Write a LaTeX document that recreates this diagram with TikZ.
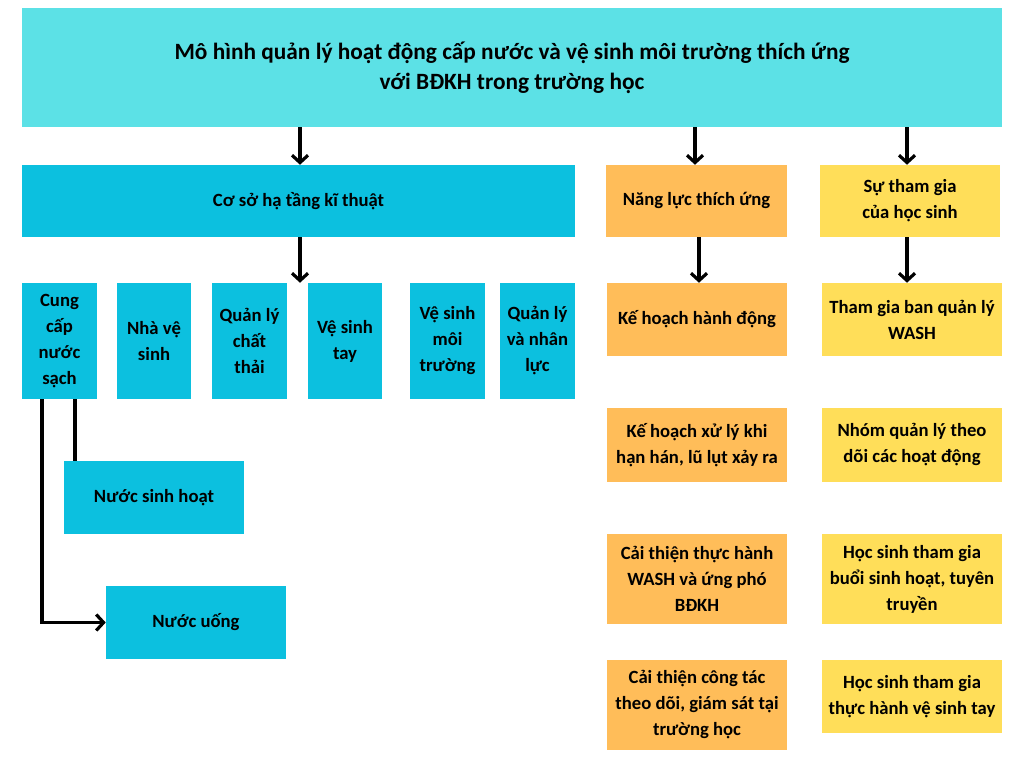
\documentclass[tikz,border=0pt]{standalone}
\usepackage{fontspec}
\setmainfont{Carlito}
\usetikzlibrary{arrows.meta}
\definecolor{titlecyan}{HTML}{5CE1E6}
\definecolor{boxcyan}{HTML}{0CC0DF}
\definecolor{boxorange}{HTML}{FFBD59}
\definecolor{boxyellow}{HTML}{FFDE59}
\tikzset{
  bx/.style={inner sep=0pt, align=center, text=black, font=\bfseries\fontsize{14}{19.5}\selectfont},
  cy/.style={bx, fill=boxcyan},
  og/.style={bx, fill=boxorange},
  yl/.style={bx, fill=boxyellow},
  wh/.style 2 args={minimum width=#1*0.75pt, minimum height=#2*0.75pt},
  conn/.style={line width=2.4pt, black},
  arr/.style={conn, -{Straight Barb[length=5.5pt,width=12pt,line width=2.4pt]}},
}
\begin{document}
\begin{tikzpicture}[x=0.75pt, y=-0.75pt]
\useasboundingbox[fill=white] (0,0) rectangle (1024,768);
% title
\node[bx, fill=titlecyan, wh={980}{119}, font=\bfseries\fontsize{17.5}{22.5}\selectfont] (title) at (512,67.5)
  {Mô hình quản lý hoạt động cấp nước và vệ sinh môi trường thích ứng\\với BĐKH trong trường học};
% level 2
\node[cy, wh={553}{72}] (coso) at (298.5,201) {Cơ sở hạ tầng kĩ thuật};
\node[og, wh={181}{72}] (nangluc) at (696.5,201) {Năng lực thích ứng};
\node[yl, wh={180}{72}] (sutg) at (910,201) {Sự tham gia\\của học sinh};
% small row
\node[cy, wh={75}{116}] (cung) at (59.5,341) {Cung\\cấp\\nước\\sạch};
\node[cy, wh={74}{116}] (nha) at (154,341) {Nhà vệ\\sinh};
\node[cy, wh={75}{116}] (qlct) at (249.5,341) {Quản lý\\chất\\thải};
\node[cy, wh={74}{116}] (vst) at (345,341) {Vệ sinh\\tay};
\node[cy, wh={75}{116}] (vsmt) at (447.5,341) {Vệ sinh\\môi\\trường};
\node[cy, wh={75}{116}] (qlnl) at (537.5,341) {Quản lý\\và nhân\\lực};
% orange column
\node[og, wh={180}{73}] (kh) at (697,319.5) {Kế hoạch hành động};
\node[og, wh={180}{74}] (kxl) at (697,445) {Kế hoạch xử lý khi\\hạn hán, lũ lụt xảy ra};
\node[og, wh={180}{90}] (ct1) at (697,579) {Cải thiện thực hành\\WASH và ứng phó\\BĐKH};
\node[og, wh={180}{90}] (ct2) at (697,705) {Cải thiện công tác\\theo dõi, giám sát tại\\trường học};
% yellow column
\node[yl, wh={180}{73}] (tgb) at (912,319.5) {Tham gia ban quản lý\\WASH};
\node[yl, wh={180}{74}] (nhom) at (912,445) {Nhóm quản lý theo\\dõi các hoạt động};
\node[yl, wh={180}{90}] (hsb) at (912,579) {Học sinh tham gia\\buổi sinh hoạt, tuyên\\truyền};
\node[yl, wh={180}{73}] (hst) at (912,696.5) {Học sinh tham gia\\thực hành vệ sinh tay};
% water sub-boxes
\node[cy, wh={180}{73}] (nsh) at (154,497.5) {Nước sinh hoạt};
\node[cy, wh={180}{73}] (nu) at (196,622.5) {Nước uống};
% helper coordinates
\coordinate (c300) at (300,0);
\coordinate (c695) at (695,0);
\coordinate (c907) at (907,0);
\coordinate (c699) at (699,0);
\coordinate (c75) at (75,0);
\coordinate (c42) at (42,0);
% connectors
\draw[arr] (title.south -| c300) -- (coso.north -| c300);
\draw[arr] (title.south -| c695) -- (nangluc.north -| c695);
\draw[arr] (title.south -| c907) -- (sutg.north -| c907);
\draw[arr] (coso.south -| c300) -- (vst.north -| c300);
\draw[arr] (nangluc.south -| c699) -- (kh.north -| c699);
\draw[arr] (sutg.south -| c907) -- (tgb.north -| c907);
\draw[conn] (cung.south -| c75) -- (nsh.north -| c75);
\draw[arr] (cung.south -| c42) |- (nu.west);
\end{tikzpicture}
\end{document}
